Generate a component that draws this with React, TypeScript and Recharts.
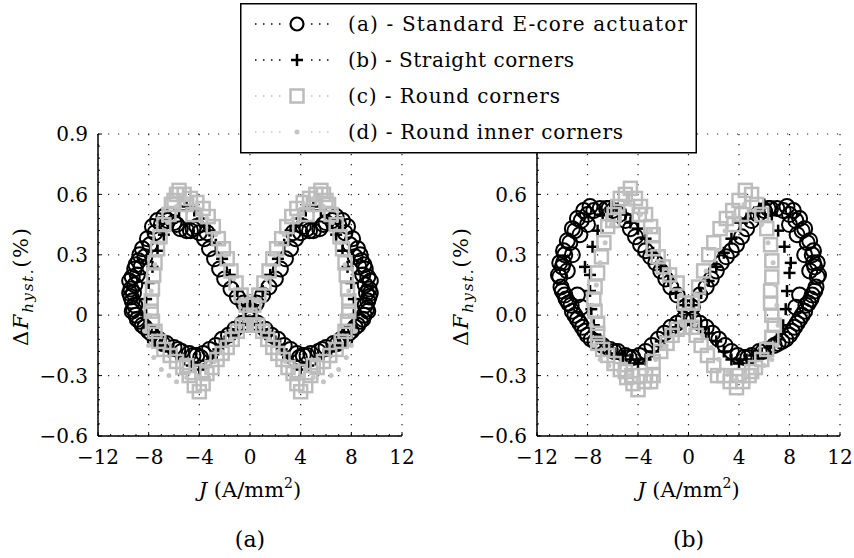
import React from 'react';
import { ScatterChart, Scatter, XAxis, YAxis, CartesianGrid, Legend } from 'recharts';

type P = [number, number];

const jTicks = [-12, -8, -4, 0, 4, 8, 12];
const fTicks = [-0.6, -0.3, 0, 0.3, 0.6, 0.9];
const seriesNames = [
  '(a) - Standard E-core actuator',
  '(b) - Straight corners',
  '(c) - Round corners',
  '(d) - Round inner corners',
];
const captions = ['(a)', '(b)'];

// ---------- plot (a) ----------
const standardA: P[] = [
  [0.0, 0.03], [-0.5, 0.06], [-1.0, 0.09], [-1.5, 0.13], [-2.0, 0.18], [-2.4, 0.23], [-2.8, 0.28], [-3.2, 0.33],
  [-3.6, 0.38], [-4.0, 0.41], [-4.5, 0.43], [-5.0, 0.42], [-5.5, 0.43], [-6.0, 0.46], [-6.5, 0.47], [-7.0, 0.45],
  [-7.5, 0.41], [-7.9, 0.35], [-8.3, 0.29], [-8.6, 0.24], [-8.9, 0.2], [-9.1, 0.15], [-9.2, 0.11], [-9.3, 0.07],
  [-9.2, 0.03], [-9.0, 0.0], [-8.7, -0.03], [-8.3, -0.06], [-7.8, -0.09], [-7.2, -0.12], [-6.6, -0.14], [-6.0, -0.16],
  [-5.4, -0.18], [-4.8, -0.19], [-4.2, -0.2], [-3.7, -0.19], [-3.2, -0.17], [-2.7, -0.15], [-2.2, -0.12], [-1.7, -0.1],
  [-1.2, -0.07], [-0.6, -0.04], [0.0, -0.02],
  [-9.4, 0.13], [-9.3, 0.19], [-9.1, 0.23], [-9.4, 0.09], [-9.1, 0.05], [-8.8, 0.27], [-3.4, 0.41], [-4.2, 0.44],
  [-6.8, 0.49], [-7.3, 0.47], [-7.7, 0.44], [-8.1, 0.38], [-8.5, 0.33], [-8.7, 0.3], [-9.0, 0.25], [-9.5, 0.17],
  [-9.5, 0.11], [-9.3, 0.02], [-8.9, -0.02], [-8.5, -0.05], [-8.0, -0.08], [-7.5, -0.12], [-6.9, -0.14],
  [-5.7, -0.17], [-4.5, -0.2], [-3.9, -0.21], [-4.7, 0.42], [-5.8, 0.45],
  [0.5, 0.06], [1.0, 0.1], [1.5, 0.14], [2.0, 0.18], [2.4, 0.23], [2.8, 0.28], [3.2, 0.33], [3.6, 0.38],
  [4.0, 0.41], [4.5, 0.43], [5.0, 0.42], [5.5, 0.43], [6.0, 0.46], [6.5, 0.47], [7.0, 0.45], [7.5, 0.41],
  [7.9, 0.35], [8.3, 0.29], [8.6, 0.24], [8.9, 0.2], [9.1, 0.15], [9.2, 0.11], [9.3, 0.07], [9.2, 0.03],
  [9.0, 0.0], [8.7, -0.03], [8.3, -0.06], [7.8, -0.09], [7.2, -0.12], [6.6, -0.14], [6.0, -0.16], [5.4, -0.18],
  [4.8, -0.19], [4.2, -0.2], [3.7, -0.19], [3.2, -0.17], [2.7, -0.15], [2.2, -0.12], [1.7, -0.1], [1.2, -0.07],
  [0.6, -0.04],
  [9.4, 0.13], [9.3, 0.19], [9.1, 0.23], [9.4, 0.09], [9.1, 0.05], [8.8, 0.27], [3.4, 0.41], [4.2, 0.44],
  [6.8, 0.49], [7.3, 0.47], [7.7, 0.44], [8.1, 0.38], [8.5, 0.33], [8.7, 0.3], [9.0, 0.25], [9.5, 0.17],
  [9.5, 0.11], [9.3, 0.02], [8.9, -0.02], [8.5, -0.05], [8.0, -0.08], [7.5, -0.12], [6.9, -0.14],
  [5.7, -0.17], [4.5, -0.2], [3.9, -0.21], [4.7, 0.42], [5.8, 0.45],
];

const straightA: P[] = [
  [-0.4, 0.05], [-1.0, 0.12], [-1.6, 0.2], [-2.2, 0.28], [-2.7, 0.35], [-3.2, 0.42], [-3.8, 0.48], [-4.4, 0.52],
  [-5.0, 0.54], [-5.6, 0.52], [-6.2, 0.46], [-6.8, 0.4], [-7.3, 0.32], [-7.7, 0.24], [-8.0, 0.16], [-8.2, 0.08],
  [-8.2, 0.0], [-8.0, -0.06], [-7.6, -0.11], [-7.0, -0.15], [-6.4, -0.18], [-5.8, -0.2], [-5.2, -0.22], [-4.6, -0.25],
  [-4.0, -0.27], [-3.5, -0.25], [-3.0, -0.21], [-2.5, -0.17], [-2.0, -0.13], [-1.5, -0.1], [-1.0, -0.07], [-0.5, -0.04],
  [0.4, 0.05], [1.0, 0.12], [1.6, 0.2], [2.2, 0.28], [2.7, 0.35], [3.2, 0.42], [3.8, 0.48], [4.4, 0.52],
  [5.0, 0.54], [5.6, 0.52], [6.2, 0.46], [6.8, 0.4], [7.3, 0.32], [7.7, 0.24], [8.0, 0.16], [8.2, 0.08],
  [8.2, 0.0], [8.0, -0.06], [7.6, -0.11], [7.0, -0.15], [6.4, -0.18], [5.8, -0.2], [5.2, -0.22], [4.6, -0.25],
  [4.0, -0.27], [3.5, -0.25], [3.0, -0.21], [2.5, -0.17], [2.0, -0.13], [1.5, -0.1], [1.0, -0.07], [0.5, -0.04],
];

const roundA: P[] = [
  [0.0, 0.0], [-0.3, 0.05], [-0.7, 0.1], [-1.1, 0.16], [-1.5, 0.22], [-1.8, 0.28], [-2.1, 0.33], [-2.5, 0.38],
  [-2.9, 0.44], [-3.3, 0.49], [-3.7, 0.53], [-4.2, 0.56], [-4.7, 0.58], [-5.2, 0.6], [-5.6, 0.62], [-6.0, 0.57],
  [-6.4, 0.5], [-6.8, 0.45], [-7.1, 0.39], [-7.3, 0.33], [-7.5, 0.26], [-7.6, 0.2], [-7.7, 0.13], [-7.8, 0.07],
  [-7.8, 0.02], [-7.7, -0.03], [-7.5, -0.08], [-7.2, -0.13], [-6.8, -0.17], [-6.3, -0.2], [-5.8, -0.23], [-5.3, -0.26],
  [-4.8, -0.3], [-4.4, -0.35], [-4.0, -0.38], [-3.7, -0.34], [-3.4, -0.29], [-3.0, -0.26], [-2.6, -0.22], [-2.2, -0.19],
  [-1.8, -0.16], [-1.4, -0.12], [-1.0, -0.08], [-0.6, -0.05], [-0.3, -0.05],
  [-5.0, 0.55], [-4.5, 0.5], [-6.2, 0.55], [-5.8, 0.6], [-3.8, -0.28], [-5.0, -0.25],
  [0.3, 0.05], [0.7, 0.1], [1.1, 0.16], [1.5, 0.22], [1.8, 0.28], [2.1, 0.33], [2.5, 0.38],
  [2.9, 0.44], [3.3, 0.49], [3.7, 0.53], [4.2, 0.56], [4.7, 0.58], [5.2, 0.6], [5.6, 0.62], [6.0, 0.57],
  [6.4, 0.5], [6.8, 0.45], [7.1, 0.39], [7.3, 0.33], [7.5, 0.26], [7.6, 0.2], [7.7, 0.13], [7.8, 0.07],
  [7.8, 0.02], [7.7, -0.03], [7.5, -0.08], [7.2, -0.13], [6.8, -0.17], [6.3, -0.2], [5.8, -0.23], [5.3, -0.26],
  [4.8, -0.3], [4.4, -0.35], [4.0, -0.38], [3.7, -0.34], [3.4, -0.29], [3.0, -0.26], [2.6, -0.22], [2.2, -0.19],
  [1.8, -0.16], [1.4, -0.12], [1.0, -0.08], [0.6, -0.05], [0.3, -0.05],
  [5.0, 0.55], [4.5, 0.5], [6.2, 0.55], [5.8, 0.6], [3.8, -0.28], [5.0, -0.25],
];

const roundInnerA: P[] = [
  [-0.5, 0.07], [-1.3, 0.18], [-2.0, 0.3], [-2.7, 0.4], [-3.4, 0.48], [-4.2, 0.55], [-5.0, 0.58], [-5.8, 0.54],
  [-6.5, 0.46], [-7.1, 0.36], [-7.5, 0.25], [-7.8, 0.12], [-8.0, 0.0], [-8.3, -0.08], [-8.0, -0.15], [-7.6, -0.21],
  [-7.0, -0.27], [-6.4, -0.3], [-5.8, -0.33], [-5.0, -0.31], [-4.2, -0.3], [-3.4, -0.28], [-2.8, -0.23], [-2.2, -0.18],
  [-1.5, -0.12], [-0.8, -0.06],
  [0.5, 0.07], [1.3, 0.18], [2.0, 0.3], [2.7, 0.4], [3.4, 0.48], [4.2, 0.55], [5.0, 0.58], [5.8, 0.54],
  [6.5, 0.46], [7.1, 0.36], [7.5, 0.25], [7.8, 0.12], [8.0, 0.0], [8.3, -0.08], [8.0, -0.15], [7.6, -0.21],
  [7.0, -0.27], [6.4, -0.3], [5.8, -0.33], [5.0, -0.31], [4.2, -0.3], [3.4, -0.28], [2.8, -0.23], [2.2, -0.18],
  [1.5, -0.12], [0.8, -0.06],
];

// ---------- plot (b) ----------
const standardB: P[] = [
  [-0.3, 0.04], [-0.9, 0.1], [-1.4, 0.14], [-1.8, 0.18], [-2.2, 0.22], [-2.6, 0.26], [-3.0, 0.29], [-3.4, 0.32],
  [-3.8, 0.35], [-4.2, 0.39], [-4.6, 0.43], [-5.0, 0.47], [-5.5, 0.5], [-6.0, 0.52], [-6.5, 0.53], [-7.0, 0.53],
  [-7.5, 0.52], [-8.0, 0.5], [-8.5, 0.47], [-9.0, 0.42], [-9.4, 0.36], [-9.8, 0.3], [-10.0, 0.24], [-10.2, 0.19],
  [-10.1, 0.14], [-9.8, 0.1], [-9.5, 0.06], [-9.2, 0.02], [-8.8, -0.02], [-8.4, -0.06], [-8.0, -0.1], [-7.4, -0.13],
  [-6.8, -0.15], [-6.2, -0.17], [-5.6, -0.18], [-5.0, -0.2], [-4.4, -0.21], [-3.9, -0.2], [-3.4, -0.18], [-2.9, -0.15],
  [-2.4, -0.12], [-1.9, -0.09], [-1.4, -0.06], [-0.9, -0.04], [-0.4, -0.02],
  [-9.6, 0.22], [-9.2, 0.3], [-8.8, 0.1], [-8.5, 0.04], [-9.9, 0.26], [-8.6, 0.4], [-8.0, 0.45],
  [-7.8, 0.54], [-8.3, 0.52], [-8.8, 0.48], [-9.2, 0.43], [-9.6, 0.37], [-9.9, 0.32], [-10.2, 0.26], [-10.3, 0.2],
  [-10.0, 0.12], [-9.7, 0.08], [-9.3, 0.05], [-9.0, 0.0], [-8.6, -0.04], [-8.2, -0.08], [-7.7, -0.12], [-7.1, -0.14],
  [-5.9, -0.18], [-4.7, -0.21], [-6.3, 0.53],
  [0.3, 0.04], [0.9, 0.1], [1.4, 0.14], [1.8, 0.18], [2.2, 0.22], [2.6, 0.26], [3.0, 0.29], [3.4, 0.32],
  [3.8, 0.35], [4.2, 0.39], [4.6, 0.43], [5.0, 0.47], [5.5, 0.5], [6.0, 0.52], [6.5, 0.53], [7.0, 0.53],
  [7.5, 0.52], [8.0, 0.5], [8.5, 0.47], [9.0, 0.42], [9.4, 0.36], [9.8, 0.3], [10.0, 0.24], [10.2, 0.19],
  [10.1, 0.14], [9.8, 0.1], [9.5, 0.06], [9.2, 0.02], [8.8, -0.02], [8.4, -0.06], [8.0, -0.1], [7.4, -0.13],
  [6.8, -0.15], [6.2, -0.17], [5.6, -0.18], [5.0, -0.2], [4.4, -0.21], [3.9, -0.2], [3.4, -0.18], [2.9, -0.15],
  [2.4, -0.12], [1.9, -0.09], [1.4, -0.06], [0.9, -0.04], [0.4, -0.02],
  [9.6, 0.22], [9.2, 0.3], [8.8, 0.1], [8.5, 0.04], [9.9, 0.26], [8.6, 0.4], [8.0, 0.45],
  [7.8, 0.54], [8.3, 0.52], [8.8, 0.48], [9.2, 0.43], [9.6, 0.37], [9.9, 0.32], [10.2, 0.26], [10.3, 0.2],
  [10.0, 0.12], [9.7, 0.08], [9.3, 0.05], [9.0, 0.0], [8.6, -0.04], [8.2, -0.08], [7.7, -0.12], [7.1, -0.14],
  [5.9, -0.18], [4.7, -0.21], [6.3, 0.53],
];

const straightB: P[] = [
  [-0.4, 0.05], [-1.0, 0.11], [-1.6, 0.17], [-2.2, 0.24], [-2.8, 0.31], [-3.4, 0.38], [-4.0, 0.43], [-4.6, 0.46],
  [-5.0, 0.5], [-5.6, 0.53], [-6.2, 0.53], [-6.8, 0.5], [-7.2, 0.42], [-7.6, 0.34], [-8.2, 0.24], [-7.8, 0.2],
  [-7.8, 0.12], [-7.7, 0.03], [-7.5, -0.05], [-7.0, -0.12], [-6.4, -0.16], [-5.8, -0.19], [-5.2, -0.2], [-4.6, -0.22],
  [-4.0, -0.24], [-3.4, -0.22], [-2.8, -0.18], [-2.2, -0.13], [-1.6, -0.09], [-1.0, -0.06], [-0.4, -0.03],
  [0.4, 0.05], [1.0, 0.11], [1.6, 0.17], [2.2, 0.24], [2.8, 0.31], [3.4, 0.38], [4.1, 0.46], [4.6, 0.48],
  [5.2, 0.51], [5.6, 0.53], [6.0, 0.55], [6.6, 0.5], [7.1, 0.42], [7.6, 0.34], [8.1, 0.26], [8.0, 0.21],
  [7.8, 0.12], [7.7, 0.03], [7.5, -0.05], [7.0, -0.12], [6.4, -0.16], [5.8, -0.19], [5.2, -0.2], [4.6, -0.22],
  [4.0, -0.24], [3.4, -0.22], [2.8, -0.18], [2.2, -0.13], [1.6, -0.09], [1.0, -0.06], [0.4, -0.03],
];

const roundB: P[] = [
  [0.0, 0.0], [-0.3, 0.06], [-0.9, 0.16], [-1.5, 0.2], [-2.0, 0.24], [-2.4, 0.29], [-2.8, 0.33], [-2.8, 0.4],
  [-3.0, 0.44], [-3.4, 0.5], [-3.8, 0.54], [-4.2, 0.58], [-4.6, 0.63], [-5.0, 0.6], [-5.4, 0.58], [-5.9, 0.5],
  [-6.4, 0.44], [-6.7, 0.36], [-6.9, 0.29], [-7.2, 0.21], [-7.4, 0.14], [-7.5, 0.08], [-7.4, 0.02], [-7.2, -0.04],
  [-7.2, -0.09], [-7.2, -0.14], [-6.8, -0.17], [-6.4, -0.2], [-5.9, -0.24], [-5.4, -0.27], [-4.9, -0.31], [-4.4, -0.34],
  [-4.0, -0.37], [-3.5, -0.33], [-2.8, -0.3], [-2.8, -0.23], [-2.2, -0.18], [-1.7, -0.14], [-1.3, -0.1], [-0.9, -0.07],
  [-0.3, -0.06],
  [-5.6, 0.54], [-3.4, -0.3], [-5.0, -0.28], [-4.5, -0.3], [-3.0, -0.33], [-6.0, 0.47], [-3.9, 0.5],
  [0.3, 0.06], [0.8, 0.14], [1.2, 0.22], [1.6, 0.3], [2.0, 0.36], [2.5, 0.43], [3.0, 0.48], [3.5, 0.52],
  [4.0, 0.57], [4.5, 0.62], [5.0, 0.6], [5.4, 0.55], [5.8, 0.5], [6.2, 0.43], [6.5, 0.35], [6.6, 0.27],
  [6.6, 0.19], [6.5, 0.12], [6.5, 0.06], [6.6, 0.0], [6.8, -0.05], [6.6, -0.11], [6.2, -0.17], [5.8, -0.22],
  [5.3, -0.26], [4.8, -0.3], [4.3, -0.33], [3.8, -0.36], [3.3, -0.33], [2.8, -0.3], [2.3, -0.3], [2.0, -0.25],
  [1.5, -0.2], [1.0, -0.15], [0.6, -0.1], [0.3, -0.06],
  [4.2, 0.5], [3.6, 0.45], [5.0, -0.28], [4.0, -0.3],
];

const roundInnerB: P[] = [
  [-0.6, 0.1], [-1.5, 0.22], [-2.3, 0.32], [-3.0, 0.42], [-3.8, 0.5], [-4.6, 0.55], [-5.4, 0.52], [-6.1, 0.45],
  [-6.6, 0.36], [-7.0, 0.26], [-7.3, 0.15], [-7.6, 0.05], [-7.7, -0.05], [-7.5, -0.15], [-7.0, -0.22], [-6.3, -0.25],
  [-5.5, -0.28], [-4.7, -0.3], [-4.0, -0.32], [-3.3, -0.28], [-2.6, -0.22], [-1.9, -0.16], [-1.2, -0.1], [-0.5, -0.05],
  [0.6, 0.1], [1.4, 0.22], [2.2, 0.32], [2.9, 0.42], [3.6, 0.5], [4.4, 0.55], [5.2, 0.52], [5.8, 0.45],
  [6.3, 0.36], [6.7, 0.26], [6.9, 0.15], [7.0, 0.05], [7.1, -0.05], [7.0, -0.15], [6.6, -0.22], [6.0, -0.25],
  [5.3, -0.28], [4.5, -0.3], [3.8, -0.32], [3.1, -0.28], [2.4, -0.22], [1.8, -0.16], [1.1, -0.1], [0.5, -0.05],
];

// ---------- styling ----------
const FONT = '"DejaVu Serif", serif';
const GRAY = '#bcbcbc';
const DOT_GRAY = '#c4c4c4';

const toPts = (arr: P[]) => arr.map(([J, dF]) => ({ J, dF }));

const CircleMark = (p: any) => (
  <circle cx={p.cx} cy={p.cy} r={7.5} fill="none" stroke="#000" strokeWidth={2} />
);
const CrossMark = (p: any) => (
  <g stroke="#000" strokeWidth={2.5}>
    <line x1={p.cx - 6} x2={p.cx + 6} y1={p.cy} y2={p.cy} />
    <line x1={p.cx} x2={p.cx} y1={p.cy - 6} y2={p.cy + 6} />
  </g>
);
const SquareMark = (p: any) => (
  <rect x={p.cx - 6.5} y={p.cy - 6.5} width={13} height={13} fill="none" stroke={GRAY} strokeWidth={2.5} />
);
const DotMark = (p: any) => <circle cx={p.cx} cy={p.cy} r={2.5} fill={DOT_GRAY} />;

const markers = [CircleMark, CrossMark, SquareMark, DotMark];

const isMajor = (v: number, step: number) => Math.abs(v / step - Math.round(v / step)) < 1e-6;
const minus = (s: string) => s.replace('-', '\u2212');

const xTicksAll: number[] = [];
for (let i = 0; i < jTicks.length - 1; i++) {
  for (let k = 0; k < 4; k++) xTicksAll.push(jTicks[i] + (k * (jTicks[i + 1] - jTicks[i])) / 4);
}
xTicksAll.push(jTicks[jTicks.length - 1]);
const yTicksAll: number[] = [];
for (let i = 0; i < fTicks.length - 1; i++) {
  for (let k = 0; k < 5; k++) yTicksAll.push(+(fTicks[i] + (k * (fTicks[i + 1] - fTicks[i])) / 5).toFixed(4));
}
yTicksAll.push(fTicks[fTicks.length - 1]);

const XTick = (p: any) => {
  const v = p.payload.value;
  const major = isMajor(v, 4);
  return (
    <g>
      <line x1={p.x} x2={p.x} y1={p.y} y2={p.y - (major ? 4 : 2)} stroke="#000" strokeWidth={1} />
      {major && (
        <text x={p.x} y={p.y + 14} dy="0.72em" textAnchor="middle" fontFamily={FONT} fontSize={20} fill="#000">
          {minus(String(v))}
        </text>
      )}
    </g>
  );
};

// hidden: tick values whose label is covered by the legend box in the reference
const makeYTick = (zeroLabel: string, hidden: number[]) => (p: any) => {
  const v = p.payload.value;
  const major = isMajor(v, 0.3);
  const label = Math.abs(v) < 1e-9 ? zeroLabel : minus(v.toFixed(1));
  const show = major && !hidden.some((h) => Math.abs(h - v) < 1e-9);
  return (
    <g>
      <line x1={p.x} x2={p.x + (major ? 4 : 2)} y1={p.y} y2={p.y} stroke="#000" strokeWidth={1} />
      {show && (
        <text x={p.x - 10} y={p.y} dy="0.36em" textAnchor="end" fontFamily={FONT} fontSize={20} fill="#000">
          {label}
        </text>
      )}
    </g>
  );
};

const XTitle = ({ cx, caption }: any) => (
  <g fontFamily={FONT} fill="#000">
    <text x={cx} y={497} textAnchor="middle" fontSize={21}>
      <tspan fontStyle="italic">J</tspan> (A/mm<tspan dy={-9} fontSize={14}>2</tspan>
      <tspan dy={9}>)</tspan>
    </text>
    <text x={cx} y={547} textAnchor="middle" fontSize={22}>
      {caption}
    </text>
  </g>
);

const YTitle = ({ bx }: any) => (
  <text
    transform={`translate(${bx},287) rotate(-90)`}
    textAnchor="middle"
    fontFamily={FONT}
    fontSize={21}
    fill="#000"
    textLength={118}
    lengthAdjust="spacing"
  >
    Δ<tspan fontStyle="italic">F</tspan>
    <tspan fontStyle="italic" fontSize={15} dy={5}>hyst.</tspan>
    <tspan dy={-5}>(%)</tspan>
  </text>
);

const LegendBox = () => {
  const rows = [24, 60, 96, 132].map((y) => y - 3);
  const lineColors = ['#000', '#000', GRAY, DOT_GRAY];
  const textLens = [339, 226, 212, 275];
  return (
    <svg width={457} height={151} style={{ display: 'block' }}>
      <rect x={0.75} y={0.75} width={455.5} height={149} fill="#fff" stroke="#000" strokeWidth={1.5} />
      {seriesNames.map((name, i) => {
        const y = rows[i];
        const M = markers[i];
        return (
          <g key={name}>
            <line x1={15} x2={90} y1={y} y2={y} stroke={lineColors[i]} strokeWidth={1.5} strokeDasharray="1.5 6.5" />
            <rect x={46} y={y - 8} width={22} height={16} fill="#fff" />
            {i === 0 ? (
              <circle cx={57} cy={y} r={6.5} fill="none" stroke="#000" strokeWidth={2.2} />
            ) : (
              <M cx={57} cy={y} />
            )}
            <text x={108} y={y} dy="0.36em" fontFamily={FONT} fontSize={20} fill="#000" textLength={textLens[i]} lengthAdjust="spacing">
              {name}
            </text>
          </g>
        );
      })}
    </svg>
  );
};

type PanelProps = {
  left: number;
  width: number;
  yAxisWidth: number;
  rightMargin: number;
  zeroLabel: string;
  hiddenY: number[];
  caption: string;
  titleX: number;
  series: P[][];
  withLegend: boolean;
};

const Panel = (pp: PanelProps) => {
  const plotCx = pp.yAxisWidth + (pp.width - pp.rightMargin - pp.yAxisWidth) / 2;
  return (
    <div style={{ position: 'absolute', left: pp.left, top: 0 }}>
      <ScatterChart
        width={pp.width}
        height={558}
        margin={{ top: 134, right: pp.rightMargin, bottom: 0, left: 0 }}
        style={{ overflow: 'visible' }}
      >
        <CartesianGrid
          stroke="#222"
          strokeWidth={1.2}
          strokeDasharray="1.2 8.8"
          horizontalValues={fTicks}
          verticalValues={jTicks}
        />
        <XAxis
          type="number"
          dataKey="J"
          domain={[-12, 12]}
          ticks={xTicksAll}
          interval={0}
          tickLine={false}
          tickSize={0}
          tickMargin={0}
          height={122}
          axisLine={{ stroke: '#000', strokeWidth: 1.5 }}
          tick={XTick}
          label={<XTitle cx={plotCx} caption={pp.caption} />}
        />
        <YAxis
          type="number"
          dataKey="dF"
          domain={[-0.6, 0.9]}
          ticks={yTicksAll}
          interval={0}
          tickLine={false}
          tickSize={0}
          tickMargin={0}
          width={pp.yAxisWidth}
          axisLine={{ stroke: '#000', strokeWidth: 1.5 }}
          tick={makeYTick(pp.zeroLabel, pp.hiddenY)}
          label={<YTitle bx={pp.titleX} />}
        />
        {pp.series.map((s, i) => (
          <Scatter
            key={seriesNames[i]}
            name={seriesNames[i]}
            data={toPts(s)}
            shape={markers[i]}
            isAnimationActive={false}
          />
        ))}
        {pp.withLegend && (
          <Legend
            layout="vertical"
            align="center"
            verticalAlign="middle"
            content={<LegendBox />}
            wrapperStyle={{ left: 240 - pp.left, top: 3, width: 457, height: 151, zIndex: 10 }}
          />
        )}
      </ScatterChart>
    </div>
  );
};

export default function App() {
  return (
    <div style={{ position: 'absolute', left: 0, top: 0, width: 854, height: 558, background: '#fff' }}>
      <Panel
        left={0}
        width={430}
        yAxisWidth={98}
        rightMargin={28}
        zeroLabel="0"
        hiddenY={[]}
        caption={captions[0]}
        titleX={28}
        series={[standardA, straightA, roundA, roundInnerA]}
        withLegend={false}
      />
      <Panel
        left={430}
        width={424}
        yAxisWidth={107}
        rightMargin={14}
        zeroLabel="0.0"
        hiddenY={[0.9]}
        caption={captions[1]}
        titleX={38}
        series={[standardB, straightB, roundB, roundInnerB]}
        withLegend={true}
      />
    </div>
  );
}
